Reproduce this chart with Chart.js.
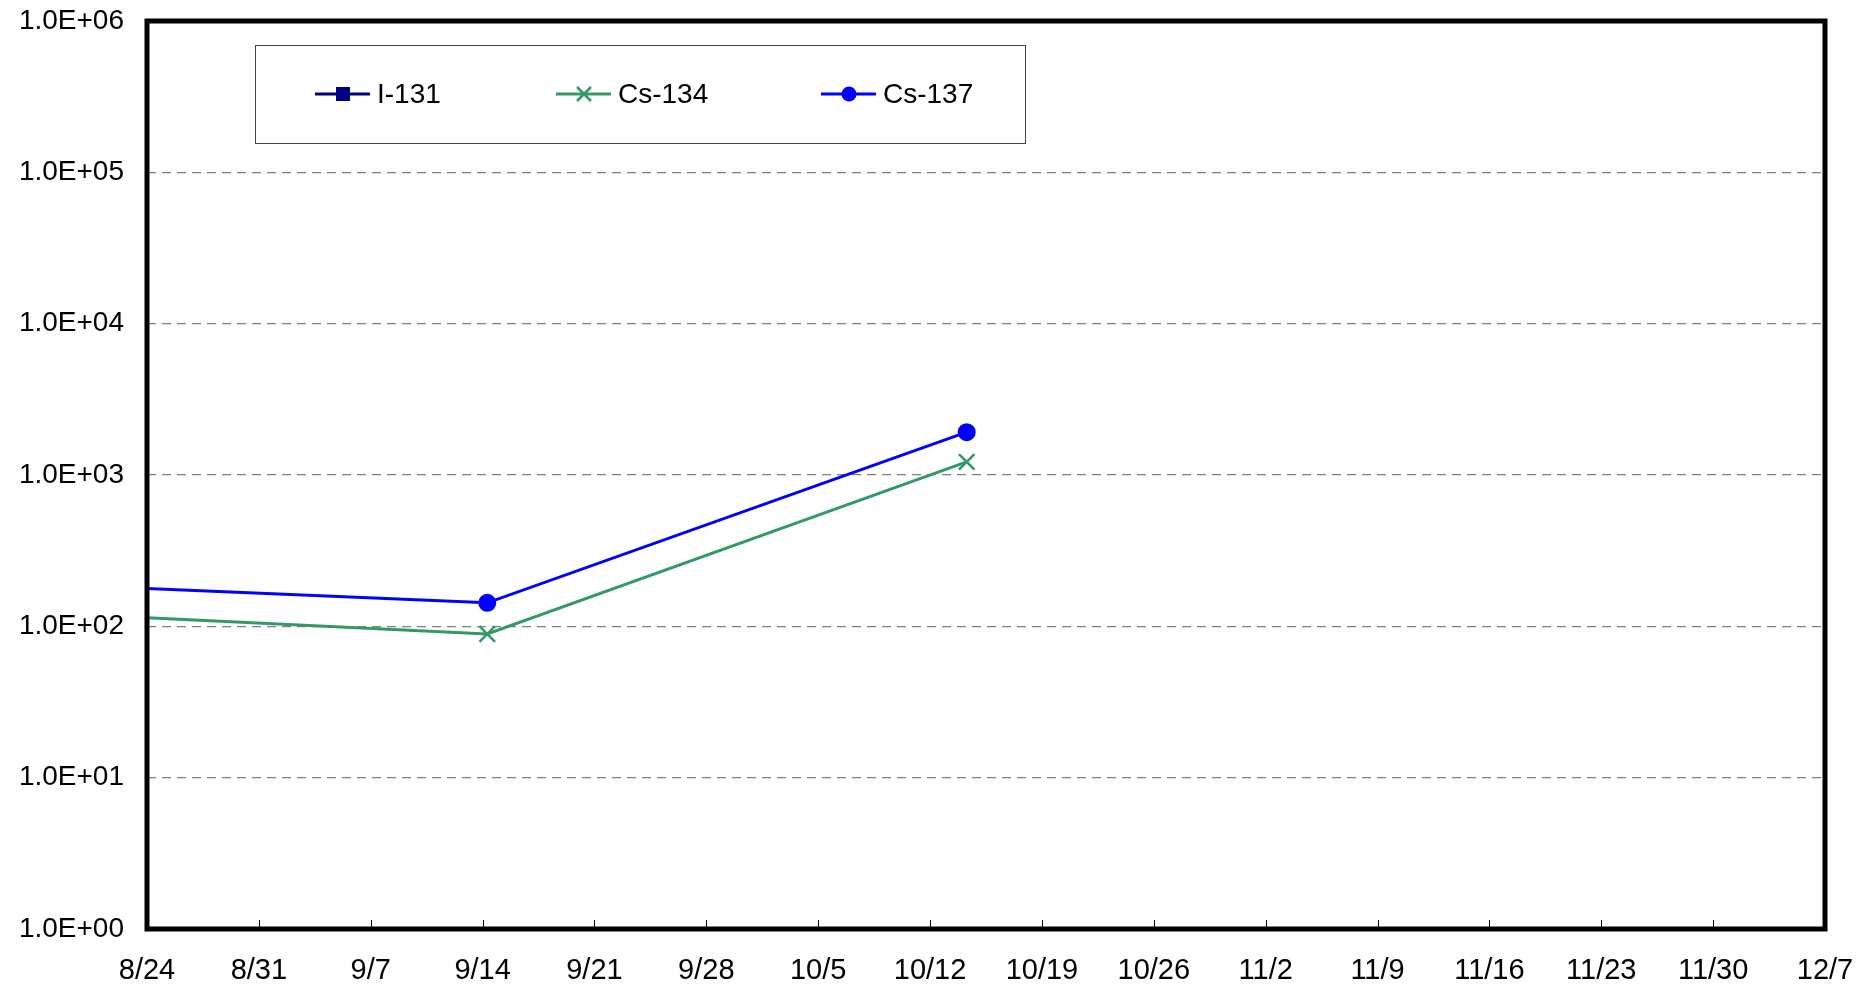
<!DOCTYPE html>
<html>
<head>
<meta charset="utf-8">
<title>I-131 / Cs-134 / Cs-137</title>
<script src="https://cdn.jsdelivr.net/npm/chart.js@4/dist/chart.umd.min.js"></script>
<style>
    html, body { margin: 0; padding: 0; background: #fff; }
    #wrap { width: 1876px; height: 986px; position: relative; }
</style>
</head>
<body>
<div id="wrap"><canvas id="nuclideChart"></canvas></div>
<script>
// sampling times (first one lies before the axis start, so only its line shows)
const sampleDates = ["8/10 07:00", "9/14 07:00", "10/14 07:00"];
const i131 = [null, null, null];
const cs134 = [134, 89, 1220];
const cs137 = [204, 143, 1920];

const xTickLabels = ["8/24", "8/31", "9/7", "9/14", "9/21", "9/28", "10/5", "10/12",
    "10/19", "10/26", "11/2", "11/9", "11/16", "11/23", "11/30", "12/7"];
const yTicks = [1, 10, 100, 1000, 10000, 100000, 1000000];
const yTickLabels = ["1.0E+00", "1.0E+01", "1.0E+02", "1.0E+03", "1.0E+04", "1.0E+05", "1.0E+06"];

const FONT = "'Liberation Sans', Arial, sans-serif";
const START = Date.UTC(2011, 7, 24);

// "m/d hh:mm" -> days since 8/24
function dayOf(s) {
    const [md, hm = "00:00"] = s.split(" ");
    const [m, d] = md.split("/").map(Number);
    const [h, min] = hm.split(":").map(Number);
    return (Date.UTC(2011, m - 1, d, h, min) - START) / 86400000;
}

function toPoints(values) {
    return sampleDates.map((s, i) => ({ x: dayOf(s), y: values[i] }));
}

// frame, inward x ticks and the boxed legend
const framePlugin = {
    id: "frame",
    afterDraw(chart) {
        const { ctx, chartArea: a } = chart;
        const xs = chart.scales.x;
        ctx.save();

        // small ticks pointing up from the bottom edge
        ctx.strokeStyle = "#000";
        ctx.lineWidth = 1;
        xs.ticks.forEach(t => {
            const px = Math.round(xs.getPixelForValue(t.value)) + 0.5;
            ctx.beginPath();
            ctx.moveTo(px, a.bottom);
            ctx.lineTo(px, a.bottom - 9);
            ctx.stroke();
        });

        // thick plot border
        ctx.lineWidth = 5;
        ctx.strokeRect(a.left, a.top, a.right - a.left, a.bottom - a.top);

        // legend box
        ctx.fillStyle = "#fff";
        ctx.fillRect(255, 45, 770, 98);
        ctx.lineWidth = 1;
        ctx.strokeStyle = "#444";
        ctx.strokeRect(255.5, 45.5, 770, 98);

        const lx = [315, 556, 821];
        const ly = 94;
        chart.data.datasets.forEach((ds, i) => {
            ctx.strokeStyle = ds.borderColor;
            ctx.lineWidth = 3;
            ctx.beginPath();
            ctx.moveTo(lx[i], ly);
            ctx.lineTo(lx[i] + 55, ly);
            ctx.stroke();
            const mx = lx[i] + 28;
            ctx.fillStyle = ds.pointBackgroundColor;
            if (ds.pointStyle === "rect") {
                ctx.fillRect(mx - 7, ly - 7, 14, 14);
            } else if (ds.pointStyle === "circle") {
                ctx.beginPath();
                ctx.arc(mx, ly, 7.5, 0, Math.PI * 2);
                ctx.fill();
            } else {
                ctx.lineWidth = 2.5;
                ctx.beginPath();
                ctx.moveTo(mx - 7, ly - 7); ctx.lineTo(mx + 7, ly + 7);
                ctx.moveTo(mx - 7, ly + 7); ctx.lineTo(mx + 7, ly - 7);
                ctx.stroke();
            }
            ctx.fillStyle = "#000";
            ctx.font = "28px " + FONT;
            ctx.textBaseline = "middle";
            ctx.fillText(ds.label, lx[i] + 62, ly + 1);
        });

        ctx.restore();
    }
};

new Chart(document.getElementById("nuclideChart"), {
    type: "line",
    data: {
        datasets: [
            {
                label: "I-131",
                data: toPoints(i131),
                borderColor: "#000080",
                backgroundColor: "#000080",
                pointBackgroundColor: "#000080",
                pointStyle: "rect",
                pointRadius: 7,
                borderWidth: 3
            },
            {
                label: "Cs-134",
                data: toPoints(cs134),
                borderColor: "#339966",
                backgroundColor: "#339966",
                pointBackgroundColor: "#339966",
                pointBorderColor: "#339966",
                pointStyle: "crossRot",
                pointRadius: 11,
                pointBorderWidth: 2.5,
                borderWidth: 3
            },
            {
                label: "Cs-137",
                data: toPoints(cs137),
                borderColor: "#0000FF",
                backgroundColor: "#0000FF",
                pointBackgroundColor: "#0000FF",
                pointBorderColor: "#0000FF",
                pointStyle: "circle",
                pointRadius: 7.5,
                borderWidth: 3
            }
        ]
    },
    options: {
        responsive: true,
        maintainAspectRatio: false,
        animation: false,
        layout: { padding: { left: 0, top: 21, right: 51, bottom: 0 } },
        elements: { line: { tension: 0 } },
        plugins: {
            legend: { display: false },
            tooltip: { enabled: false }
        },
        scales: {
            x: {
                type: "linear",
                min: 0,
                max: 105,
                grid: { display: false },
                border: { display: false },
                afterBuildTicks: axis => {
                    axis.ticks = xTickLabels.map((_, i) => ({ value: i * 7 }));
                },
                afterFit: axis => {
                    axis.height = 57;
                    axis.paddingLeft = 0;
                    axis.paddingRight = 0;
                },
                ticks: {
                    autoSkip: false,
                    maxRotation: 0,
                    padding: 17,
                    color: "#000",
                    font: { family: FONT, size: 29 },
                    callback: (v, i) => xTickLabels[i]
                }
            },
            y: {
                type: "logarithmic",
                min: 1,
                max: 1000000,
                grid: {
                    color: ctx => (ctx.tick && (ctx.tick.value === 1 || ctx.tick.value === 1000000)) ? "rgba(0,0,0,0)" : "#808080",
                    lineWidth: 1.3,
                    drawTicks: false
                },
                border: { display: false, dash: [9, 6] },
                afterBuildTicks: axis => {
                    axis.ticks = yTicks.map(v => ({ value: v }));
                },
                afterFit: axis => {
                    axis.width = 147;
                    // keep label overflow from pushing the plot down
                    axis.paddingTop = 0;
                    axis.paddingBottom = 0;
                },
                ticks: {
                    padding: 23,
                    color: "#000",
                    font: { family: FONT, size: 28 },
                    callback: v => yTickLabels[yTicks.indexOf(v)]
                }
            }
        }
    },
    plugins: [framePlugin]
});
console.log("chart drawn");
</script>
</body>
</html>
